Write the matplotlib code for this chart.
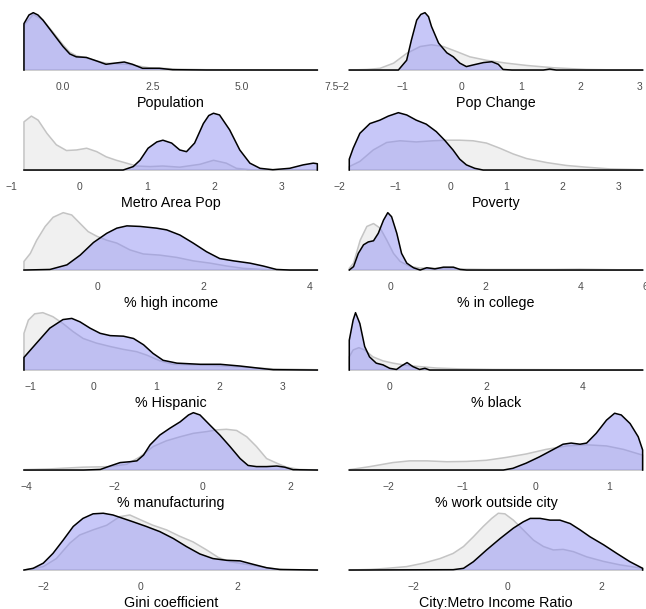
import matplotlib
matplotlib.use("Agg")
import matplotlib.pyplot as plt

plt.rcParams["font.family"] = ["Liberation Sans", "DejaVu Sans"]

# Relative density curves (x, height as a fraction of the panel maximum)
# "all cities" = grey, "selected cities" = purple.
population_grey = [(-1.09, 0.78), (-0.83, 0.97), (-0.56, 0.87), (-0.28, 0.66), (0.0, 0.44),
                   (0.19, 0.31), (0.37, 0.25), (0.65, 0.21), (0.93, 0.16), (1.2, 0.12),
                   (1.5, 0.11), (1.8, 0.10), (2.1, 0.07), (2.4, 0.04), (2.8, 0.03),
                   (3.2, 0.015), (4.0, 0.006), (5.0, 0.003), (6.0, 0.002), (7.1, 0.001)]
population_purple = [(-1.09, 0.81), (-0.95, 0.96), (-0.83, 1.0), (-0.70, 0.96), (-0.56, 0.87),
                     (-0.28, 0.64), (0.0, 0.41), (0.19, 0.28), (0.37, 0.23), (0.65, 0.22),
                     (0.93, 0.16), (1.2, 0.10), (1.44, 0.12), (1.71, 0.14), (1.94, 0.10),
                     (2.22, 0.03), (2.69, 0.03), (3.06, 0.006), (4.0, 0.001), (7.1, 0.0)]

popchange_grey = [(-1.9, 0.0), (-1.6, 0.01), (-1.38, 0.03), (-1.15, 0.12), (-0.93, 0.29),
                  (-0.70, 0.41), (-0.51, 0.44), (-0.31, 0.41), (-0.08, 0.32), (0.14, 0.23),
                  (0.42, 0.17), (0.76, 0.12), (1.1, 0.08), (1.55, 0.04), (2.11, 0.01),
                  (2.6, 0.002), (3.06, 0.0)]
popchange_purple = [(-1.9, 0.0), (-1.07, 0.0), (-0.93, 0.17), (-0.85, 0.52), (-0.76, 0.87),
                    (-0.69, 0.97), (-0.62, 1.0), (-0.56, 0.93), (-0.51, 0.76), (-0.39, 0.47),
                    (-0.25, 0.30), (-0.14, 0.23), (-0.03, 0.12), (0.08, 0.06), (0.20, 0.09),
                    (0.37, 0.13), (0.51, 0.145), (0.62, 0.10), (0.70, 0.01), (0.85, 0.0),
                    (1.38, 0.0), (1.49, 0.017), (1.6, 0.0), (3.06, 0.0)]

metro_grey = [(-0.82, 0.84), (-0.71, 0.94), (-0.61, 0.87), (-0.48, 0.64), (-0.34, 0.44),
              (-0.19, 0.34), (-0.04, 0.35), (0.11, 0.38), (0.26, 0.32), (0.40, 0.23),
              (0.55, 0.17), (0.70, 0.12), (0.85, 0.07), (1.05, 0.06), (1.24, 0.07),
              (1.49, 0.05), (1.79, 0.10), (1.99, 0.17), (2.18, 0.12), (2.33, 0.03),
              (2.58, 0.0), (3.53, 0.0)]
metro_purple = [(-0.82, 0.0), (0.65, 0.0), (0.80, 0.06), (0.90, 0.17), (1.02, 0.38),
                (1.15, 0.49), (1.24, 0.52), (1.37, 0.47), (1.49, 0.35), (1.59, 0.32),
                (1.71, 0.47), (1.84, 0.81), (1.92, 0.95), (1.99, 0.99), (2.08, 0.96),
                (2.23, 0.70), (2.38, 0.35), (2.53, 0.12), (2.68, 0.03), (2.87, 0.006),
                (3.12, 0.03), (3.32, 0.09), (3.47, 0.12), (3.53, 0.11)]

poverty_grey = [(-1.82, 0.06), (-1.63, 0.15), (-1.39, 0.35), (-1.15, 0.48), (-0.91, 0.51),
                (-0.62, 0.49), (-0.32, 0.51), (-0.08, 0.52), (0.16, 0.52), (0.40, 0.51),
                (0.64, 0.47), (0.88, 0.38), (1.12, 0.28), (1.36, 0.20), (1.72, 0.13),
                (2.07, 0.08), (2.43, 0.05), (2.85, 0.02), (3.44, 0.005)]
poverty_purple = [(-1.82, 0.19), (-1.75, 0.38), (-1.63, 0.64), (-1.45, 0.81), (-1.27, 0.87),
                  (-1.12, 0.94), (-0.94, 1.0), (-0.79, 0.96), (-0.62, 0.87), (-0.44, 0.80),
                  (-0.26, 0.67), (-0.11, 0.52), (0.04, 0.35), (0.16, 0.19), (0.28, 0.09),
                  (0.43, 0.03), (0.58, 0.0), (3.44, 0.0)]

highinc_grey = [(-1.39, 0.15), (-1.27, 0.29), (-1.15, 0.52), (-0.99, 0.76), (-0.84, 0.92),
                (-0.65, 1.0), (-0.49, 0.96), (-0.33, 0.81), (-0.18, 0.67), (-0.02, 0.59),
                (0.17, 0.52), (0.36, 0.47), (0.61, 0.35), (0.86, 0.28), (1.17, 0.26),
                (1.49, 0.22), (1.80, 0.16), (2.12, 0.12), (2.43, 0.07), (2.74, 0.03),
                (3.18, 0.006), (4.14, 0.0)]
highinc_purple = [(-1.39, 0.0), (-0.90, 0.01), (-0.58, 0.09), (-0.33, 0.26), (-0.08, 0.48),
                  (0.17, 0.64), (0.36, 0.73), (0.55, 0.77), (0.80, 0.76), (1.11, 0.73),
                  (1.30, 0.70), (1.55, 0.61), (1.80, 0.47), (2.05, 0.32), (2.30, 0.20),
                  (2.56, 0.16), (2.87, 0.12), (3.12, 0.07), (3.37, 0.01), (3.62, 0.0),
                  (4.14, 0.0)]

college_grey = [(-0.87, 0.03), (-0.78, 0.12), (-0.64, 0.52), (-0.50, 0.76), (-0.36, 0.81),
                (-0.22, 0.73), (-0.08, 0.52), (0.06, 0.29), (0.20, 0.15), (0.41, 0.06),
                (0.62, 0.035), (0.97, 0.03), (1.32, 0.02), (2.02, 0.01), (3.42, 0.01),
                (3.98, 0.015), (4.8, 0.004), (5.30, 0.0)]
college_purple = [(-0.87, 0.0), (-0.78, 0.06), (-0.68, 0.29), (-0.57, 0.44), (-0.47, 0.49),
                  (-0.36, 0.51), (-0.26, 0.64), (-0.15, 0.87), (-0.06, 1.0), (0.02, 0.93),
                  (0.13, 0.64), (0.23, 0.29), (0.34, 0.12), (0.48, 0.04), (0.62, 0.0),
                  (0.76, 0.04), (0.93, 0.02), (1.11, 0.05), (1.32, 0.05), (1.46, 0.01),
                  (1.60, 0.0), (5.30, 0.0)]

hispanic_grey = [(-1.10, 0.64), (-1.03, 0.87), (-0.93, 0.98), (-0.80, 1.0), (-0.64, 0.93),
                 (-0.48, 0.81), (-0.32, 0.67), (-0.16, 0.55), (0.05, 0.47), (0.27, 0.41),
                 (0.48, 0.36), (0.69, 0.32), (0.85, 0.26), (1.06, 0.16), (1.27, 0.10),
                 (1.59, 0.09), (1.91, 0.08), (2.23, 0.06), (2.55, 0.04), (2.86, 0.02),
                 (3.56, 0.005)]
hispanic_purple = [(-1.10, 0.22), (-0.90, 0.47), (-0.69, 0.73), (-0.48, 0.88), (-0.34, 0.90),
                   (-0.21, 0.84), (-0.05, 0.73), (0.11, 0.64), (0.27, 0.60), (0.48, 0.59),
                   (0.64, 0.55), (0.80, 0.44), (0.95, 0.29), (1.11, 0.17), (1.33, 0.12),
                   (1.70, 0.10), (2.02, 0.10), (2.33, 0.07), (2.65, 0.03), (2.86, 0.006),
                   (3.56, 0.0)]

black_grey = [(-0.84, 0.23), (-0.76, 0.35), (-0.64, 0.39), (-0.52, 0.35), (-0.35, 0.23),
              (-0.14, 0.16), (0.07, 0.12), (0.35, 0.08), (0.62, 0.06), (0.97, 0.035),
              (1.45, 0.02), (2.15, 0.01), (3.39, 0.006), (5.25, 0.0)]
black_purple = [(-0.84, 0.52), (-0.76, 0.87), (-0.71, 1.0), (-0.62, 0.81), (-0.52, 0.41),
                (-0.42, 0.23), (-0.28, 0.12), (-0.14, 0.09), (0.0, 0.03), (0.14, 0.01),
                (0.24, 0.07), (0.36, 0.13), (0.48, 0.06), (0.62, 0.01), (0.73, 0.03),
                (0.83, 0.0), (5.25, 0.0)]

manuf_grey = [(-4.05, 0.006), (-3.46, 0.02), (-2.70, 0.05), (-2.10, 0.06), (-1.72, 0.10),
              (-1.42, 0.23), (-1.12, 0.41), (-0.82, 0.51), (-0.51, 0.58), (-0.21, 0.64),
              (0.09, 0.67), (0.32, 0.70), (0.54, 0.71), (0.77, 0.69), (1.00, 0.58),
              (1.22, 0.41), (1.45, 0.20), (1.68, 0.12), (1.90, 0.05), (2.20, 0.01),
              (2.60, 0.0)]
manuf_purple = [(-4.05, 0.0), (-2.70, 0.0), (-2.32, 0.01), (-2.10, 0.07), (-1.87, 0.13),
                (-1.65, 0.145), (-1.49, 0.16), (-1.34, 0.26), (-1.19, 0.44), (-0.97, 0.61),
                (-0.74, 0.73), (-0.51, 0.84), (-0.32, 0.96), (-0.21, 1.0), (-0.06, 0.96),
                (0.17, 0.78), (0.39, 0.61), (0.62, 0.41), (0.85, 0.20), (1.03, 0.08),
                (1.22, 0.06), (1.45, 0.06), (1.68, 0.07), (1.86, 0.05), (2.05, 0.006),
                (2.60, 0.0)]

workout_grey = [(-2.53, 0.006), (-2.25, 0.06), (-1.94, 0.13), (-1.71, 0.16), (-1.48, 0.16),
                (-1.21, 0.145), (-0.94, 0.15), (-0.67, 0.17), (-0.40, 0.22), (-0.13, 0.28),
                (0.14, 0.36), (0.42, 0.42), (0.69, 0.44), (0.96, 0.42), (1.19, 0.36),
                (1.37, 0.29), (1.45, 0.26)]
workout_purple = [(-2.53, 0.0), (-0.44, 0.0), (-0.31, 0.03), (-0.13, 0.12), (0.05, 0.23),
                  (0.24, 0.36), (0.37, 0.45), (0.48, 0.47), (0.60, 0.45), (0.69, 0.47),
                  (0.82, 0.64), (0.96, 0.87), (1.07, 0.99), (1.16, 0.96), (1.28, 0.81),
                  (1.39, 0.58), (1.45, 0.35)]

gini_grey = [(-2.41, 0.0), (-2.01, 0.06), (-1.74, 0.20), (-1.46, 0.47), (-1.26, 0.61),
             (-0.98, 0.70), (-0.70, 0.78), (-0.43, 0.93), (-0.22, 0.96), (-0.01, 0.88),
             (0.26, 0.78), (0.54, 0.70), (0.81, 0.59), (1.09, 0.49), (1.37, 0.35),
             (1.61, 0.22), (1.85, 0.145), (2.19, 0.10), (2.61, 0.04), (2.95, 0.006),
             (3.66, 0.0)]
gini_purple = [(-2.41, 0.0), (-2.22, 0.03), (-2.01, 0.12), (-1.81, 0.29), (-1.60, 0.52),
               (-1.39, 0.76), (-1.19, 0.90), (-0.98, 0.98), (-0.77, 0.99), (-0.57, 0.96),
               (-0.36, 0.90), (-0.15, 0.84), (0.12, 0.76), (0.40, 0.67), (0.68, 0.55),
               (0.95, 0.41), (1.23, 0.28), (1.50, 0.20), (1.78, 0.17), (2.06, 0.16),
               (2.33, 0.10), (2.61, 0.04), (2.88, 0.01), (3.66, 0.0)]

ratio_grey = [(-3.37, 0.0), (-2.93, 0.01), (-2.57, 0.03), (-2.15, 0.06), (-1.79, 0.12),
              (-1.44, 0.20), (-1.16, 0.29), (-0.94, 0.41), (-0.73, 0.58), (-0.52, 0.76),
              (-0.34, 0.90), (-0.20, 0.99), (-0.06, 0.98), (0.12, 0.87), (0.33, 0.70),
              (0.55, 0.52), (0.76, 0.41), (0.97, 0.35), (1.18, 0.36), (1.40, 0.32),
              (1.68, 0.23), (2.04, 0.15), (2.39, 0.09), (2.87, 0.03)]
ratio_purple = [(-3.37, 0.0), (-1.16, 0.006), (-0.94, 0.03), (-0.73, 0.145), (-0.45, 0.35),
                (-0.16, 0.55), (0.12, 0.73), (0.33, 0.84), (0.48, 0.90), (0.69, 0.90),
                (0.90, 0.87), (1.11, 0.87), (1.33, 0.81), (1.54, 0.70), (1.75, 0.58),
                (2.04, 0.44), (2.32, 0.29), (2.60, 0.145), (2.87, 0.03)]

titles = ["Population", "Pop Change", "Metro Area Pop", "Poverty", "% high income",
          "% in college", "% Hispanic", "% black", "% manufacturing",
          "% work outside city", "Gini coefficient", "City:Metro Income Ratio"]
ticks = [[0.0, 2.5, 5.0, 7.5], [-2, -1, 0, 1, 2, 3], [-1, 0, 1, 2, 3], [-2, -1, 0, 1, 2, 3],
         [0, 2, 4], [0, 2, 4], [-1, 0, 1, 2, 3], [0, 2, 4], [-4, -2, 0, 2],
         [-2, -1, 0, 1], [-2, 0, 2], [-2, 0, 2]]
tick_labels = [["0.0", "2.5", "5.0", "7.5"], None, None, None, None, None, None, None,
               None, None, None, None]
# label at the clipped right edge of the "% in college" axis
edge_labels = {5: "6"}

grey_series = [population_grey, popchange_grey, metro_grey, poverty_grey, highinc_grey,
               college_grey, hispanic_grey, black_grey, manuf_grey, workout_grey,
               gini_grey, ratio_grey]
purple_series = [population_purple, popchange_purple, metro_purple, poverty_purple,
                 highinc_purple, college_purple, hispanic_purple, black_purple,
                 manuf_purple, workout_purple, gini_purple, ratio_purple]

W, H = 646, 609
fig = plt.figure(figsize=(W / 100, H / 100), dpi=100)

col_left = [9.3, 334.6]
col_width = 322.7
row_top0 = 9.8
row_step = 100.0
row_height = 63.1


def closed(points):
    xs = [p[0] for p in points]
    ys = [p[1] for p in points]
    return [xs[0]] + xs + [xs[-1]], [0.0] + ys + [0.0]


for i in range(12):
    r, c = divmod(i, 2)
    top = row_top0 + r * row_step
    ax = fig.add_axes([col_left[c] / W, 1 - (top + row_height) / H,
                       col_width / W, row_height / H])
    gx, gy = closed(grey_series[i])
    px, py = closed(purple_series[i])
    ax.fill(gx, gy, facecolor="#f0f0f0", edgecolor="#c4c4c4", lw=1.1,
            joinstyle="round")
    ax.fill(px, py, facecolor="#9090f2", alpha=0.5, edgecolor="none")
    ax.plot(px, py, color="black", lw=1.1, solid_joinstyle="round")

    x0 = min(gx[0], px[0])
    x1 = max(gx[-1], px[-1])
    pad = 0.05 * (x1 - x0)
    lo, hi = x0 - pad, x1 + pad
    tk = list(ticks[i])
    labels = tick_labels[i] if tick_labels[i] is not None else [
        f"{t:g}".replace("-", "\u2212") for t in tk]
    if i in edge_labels:
        tk.append(lo + (645.5 - col_left[c]) / col_width * (hi - lo))
        labels = list(labels) + [edge_labels[i]]
    ax.set_xticks(tk)
    ax.set_xticklabels(labels)
    ax.set_xlim(lo, hi)
    ax.set_ylim(-0.05, 1.05)
    ax.set_yticks([])
    ax.tick_params(axis="x", length=0, pad=6.5, labelsize=7.5, labelcolor="#4d4d4d")
    for s in ax.spines.values():
        s.set_visible(False)
    ax.set_facecolor("none")
    ax.set_xlabel(titles[i], fontsize=10.3, labelpad=2.6, color="black")

fig.savefig("out.png", dpi=100)
